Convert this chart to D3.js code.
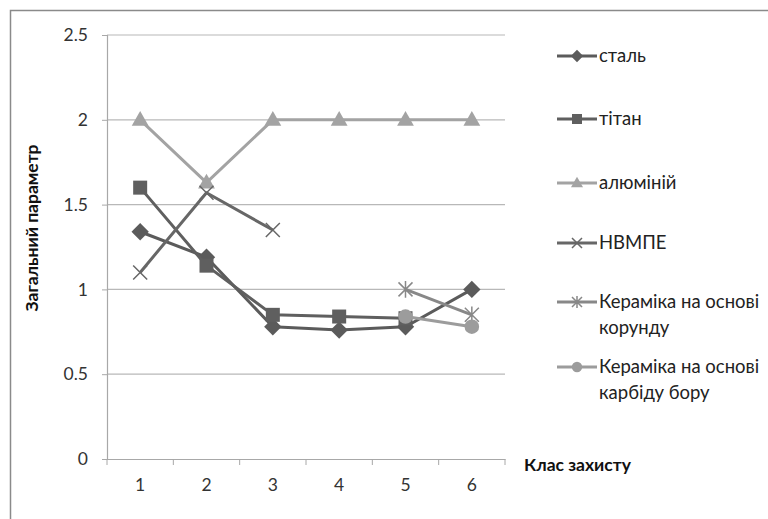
<!DOCTYPE html>
<html>
<head>
<meta charset="utf-8">
<script src="https://cdnjs.cloudflare.com/ajax/libs/d3/7.8.5/d3.min.js"></script>
<style>
  body { margin: 0; background: #fff; }
  text { font-family: Lato, "Open Sans", sans-serif; }
</style>
</head>
<body>
<div id="chart"></div>
<script>
// data
const classes = ["1", "2", "3", "4", "5", "6"];
const yTicks = [0, 0.5, 1, 1.5, 2, 2.5];
const yTickLabels = ["0", "0.5", "1", "1.5", "2", "2.5"];

const seriesNames = ["сталь", "тітан", "алюміній", "НВМПЕ", "Кераміка на основі корунду", "Кераміка на основі карбіду бору"];
const legendLines = [["сталь"], ["тітан"], ["алюміній"], ["НВМПЕ"], ["Кераміка на основі", "корунду"], ["Кераміка на основі", "карбіду бору"]];

const steel    = [1.34, 1.19, 0.78, 0.76, 0.78, 1.0];
const titanium = [1.6, 1.14, 0.85, 0.84, 0.83, null];
const aluminum = [2.0, 1.63, 2.0, 2.0, 2.0, 2.0];
const uhmwpe   = [1.1, 1.57, 1.35, null, null, null];
const corundum = [null, null, null, null, 1.0, 0.85];
const boronCarbide = [null, null, null, null, 0.84, 0.78];

const seriesValues = [steel, titanium, aluminum, uhmwpe, corundum, boronCarbide];
const colors = ["#5b5b5b", "#5f5f5f", "#a3a3a3", "#676767", "#888888", "#9c9c9c"];
const markers = ["diamond", "square", "triangle", "cross", "star", "circle"];

const w = 768, h = 519;

const svg = d3.select("#chart").append("svg")
  .attr("width", w).attr("height", h);

// outer chart border
svg.append("rect")
  .attr("x", 10.5).attr("y", 10.5)
  .attr("width", w + 20).attr("height", h + 20)
  .attr("fill", "none").attr("stroke", "#8a8a8a").attr("stroke-width", 1.5);

const x = d3.scaleBand().domain(classes).range([107, 505]);
const y = d3.scaleLinear().domain([0, 2.5]).range([459, 35]);

// gridlines
svg.append("g").selectAll("line")
  .data(yTicks.filter(d => d > 0))
  .enter().append("line")
  .attr("x1", 107).attr("x2", 505)
  .attr("y1", d => y(d)).attr("y2", d => y(d))
  .attr("stroke", "#b8b8b8").attr("stroke-width", 1.2);

// y axis
const yAxis = d3.axisLeft(y)
  .tickValues(yTicks)
  .tickFormat((d, i) => yTickLabels[i])
  .tickSize(5).tickPadding(14);

const gy = svg.append("g")
  .attr("transform", "translate(107,0)")
  .call(yAxis);
gy.select(".domain").attr("stroke", "#a8a8a8").attr("stroke-width", 1.2);
gy.selectAll(".tick line").attr("stroke", "#a8a8a8");
gy.selectAll(".tick text").attr("font-size", 17.5).attr("fill", "#333")
  .attr("font-family", "Lato, sans-serif");

// x axis: labels at centres, ticks between categories
const xAxis = d3.axisBottom(x).tickSize(0).tickPadding(20);
const gx = svg.append("g")
  .attr("transform", "translate(0,459)")
  .call(xAxis);
gx.select(".domain").attr("stroke", "#a8a8a8").attr("stroke-width", 1.2);
gx.selectAll(".tick text").attr("font-size", 17.5).attr("fill", "#333")
  .attr("font-family", "Lato, sans-serif");

const bounds = classes.map(c => x(c)).concat([x.range()[1]]);
svg.append("g").selectAll("line")
  .data(bounds).enter().append("line")
  .attr("x1", d => d).attr("x2", d => d)
  .attr("y1", 459).attr("y2", 465)
  .attr("stroke", "#a8a8a8");

// axis titles
svg.append("text")
  .attr("transform", "translate(38,228) rotate(-90)")
  .attr("text-anchor", "middle")
  .attr("font-size", 17.5).attr("font-weight", "bold").attr("fill", "#111")
  .text("Загальний параметр");

svg.append("text")
  .attr("x", 524).attr("y", 471)
  .attr("font-size", 17.5).attr("font-weight", "bold").attr("fill", "#111")
  .text("Клас захисту");

function drawMarker(g, type, cx, cy, color, s) {
  if (type === "diamond") {
    g.append("path")
      .attr("d", `M${cx},${cy - s * 0.62}L${cx + s * 0.62},${cy}L${cx},${cy + s * 0.62}L${cx - s * 0.62},${cy}Z`)
      .attr("fill", color);
  } else if (type === "square") {
    g.append("rect")
      .attr("x", cx - s / 2).attr("y", cy - s / 2)
      .attr("width", s).attr("height", s).attr("fill", color);
  } else if (type === "triangle") {
    g.append("path")
      .attr("d", `M${cx},${cy - s * 0.62}L${cx + s * 0.6},${cy + s * 0.42}L${cx - s * 0.6},${cy + s * 0.42}Z`)
      .attr("fill", color);
  } else if (type === "cross") {
    const r = s * 0.5;
    g.append("path")
      .attr("d", `M${cx - r},${cy - r}L${cx + r},${cy + r}M${cx - r},${cy + r}L${cx + r},${cy - r}`)
      .attr("stroke", color).attr("stroke-width", 1.5).attr("fill", "none");
  } else if (type === "star") {
    const r = s * 0.5;
    g.append("path")
      .attr("d", `M${cx - r},${cy - r}L${cx + r},${cy + r}M${cx - r},${cy + r}L${cx + r},${cy - r}M${cx},${cy - r * 1.2}L${cx},${cy + r * 1.2}`)
      .attr("stroke", color).attr("stroke-width", 1.5).attr("fill", "none");
  } else if (type === "circle") {
    g.append("circle").attr("cx", cx).attr("cy", cy).attr("r", s * 0.52).attr("fill", color);
  }
}

const line = d3.line()
  .defined(d => d !== null)
  .x((d, i) => x(classes[i]) + x.bandwidth() / 2)
  .y(d => y(d));

seriesValues.forEach((vals, k) => {
  const g = svg.append("g");
  g.append("path")
    .datum(vals)
    .attr("d", line)
    .attr("fill", "none")
    .attr("stroke", colors[k])
    .attr("stroke-width", 3)
    .attr("stroke-linejoin", "round");
  vals.forEach((v, i) => {
    if (v === null) return;
    drawMarker(g, markers[k], x(classes[i]) + x.bandwidth() / 2, y(v), colors[k], 14);
  });
});

// legend
const legendY = [56, 119, 183, 243, 302, 367];
legendLines.forEach((lines, k) => {
  const g = svg.append("g");
  g.append("line")
    .attr("x1", 557).attr("x2", 597)
    .attr("y1", legendY[k]).attr("y2", legendY[k])
    .attr("stroke", colors[k]).attr("stroke-width", 3);
  drawMarker(g, markers[k], 577, legendY[k], colors[k], 10);
  lines.forEach((t, j) => {
    g.append("text")
      .attr("x", 599).attr("y", legendY[k] + 6 + j * 26)
      .attr("font-size", 18.5).attr("fill", "#222")
      .text(t);
  });
});
</script>
</body>
</html>
